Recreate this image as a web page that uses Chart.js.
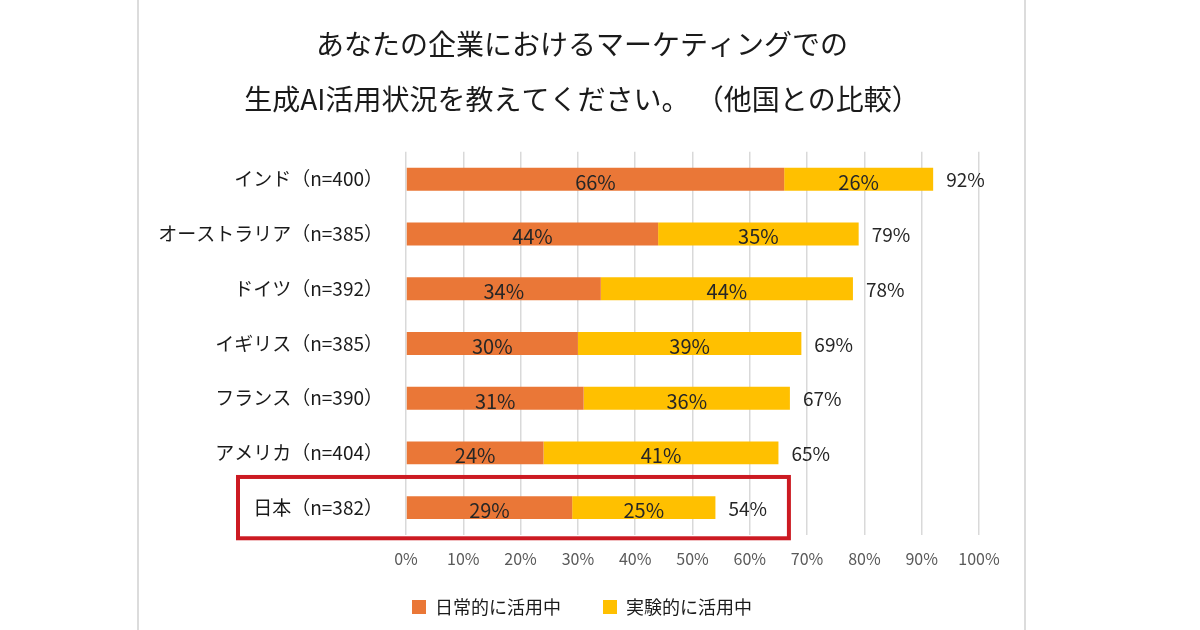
<!DOCTYPE html>
<html lang="ja">
<head>
<meta charset="utf-8">
<script src="https://cdn.jsdelivr.net/npm/chart.js@4"></script>
<style>
  html, body { margin: 0; padding: 0; background: #fff; }
  #wrap { position: relative; width: 1200px; height: 630px; }
  #wrap::before, #wrap::after {
    content: ""; position: absolute; top: 0; bottom: 0; width: 2px; background: #dcdcdc;
  }
  #wrap::before { left: 137px; }
  #wrap::after { left: 1024px; }
</style>
</head>
<body>
<div id="wrap"><canvas id="chart" width="1200" height="630"></canvas></div>
<script>
const titleLines = ['あなたの企業におけるマーケティングでの', '生成AI活用状況を教えてください。 （他国との比較）'];
const countries = ['インド（n=400）', 'オーストラリア（n=385）', 'ドイツ（n=392）', 'イギリス（n=385）', 'フランス（n=390）', 'アメリカ（n=404）', '日本（n=382）'];
const daily = [66, 44, 34, 30, 31, 24, 29];
const trial = [26, 35, 44, 39, 36, 41, 25];
const totals = [92, 79, 78, 69, 67, 65, 54];
const seriesNames = ['日常的に活用中', '実験的に活用中'];
const xTicks = [0, 10, 20, 30, 40, 50, 60, 70, 80, 90, 100];

const FONT = '"Noto Sans CJK JP", "Noto Sans", sans-serif';
Chart.defaults.font.family = FONT;

// axis labels drawn by hand so nothing gets clipped by the axis boxes
const axisLabels = {
    id: 'axisLabels',
    afterDraw(chart) {
        const x = chart.scales.x, y = chart.scales.y;
        const ctx = chart.ctx;
        ctx.save();
        ctx.textBaseline = 'middle';

        ctx.font = '19px ' + FONT;
        ctx.fillStyle = '#1a1a1a';
        ctx.textAlign = 'right';
        countries.forEach((c, i) => ctx.fillText(c, y.right - 23, y.getPixelForValue(i)));

        ctx.font = '16px ' + FONT;
        ctx.fillStyle = '#595959';
        ctx.textAlign = 'center';
        xTicks.forEach(v => ctx.fillText(v + '%', x.getPixelForValue(v), chart.chartArea.bottom + 24));
        ctx.restore();
    }
};

// values inside the bars and the total to the right
const barLabels = {
    id: 'barLabels',
    afterDatasetsDraw(chart) {
        const ctx = chart.ctx;
        ctx.save();
        ctx.fillStyle = '#262626';
        ctx.textBaseline = 'middle';
        ctx.font = '20px ' + FONT;
        chart.data.datasets.forEach((ds, i) => {
            chart.getDatasetMeta(i).data.forEach((bar, j) => {
                ctx.textAlign = 'center';
                ctx.fillText(ds.data[j] + '%', (bar.x + bar.base) / 2, bar.y + 3);
            });
        });
        ctx.font = '19px ' + FONT;
        const last = chart.getDatasetMeta(chart.data.datasets.length - 1).data;
        last.forEach((bar, j) => {
            ctx.textAlign = 'left';
            ctx.fillText(totals[j] + '%', bar.x + 13, bar.y + 1);
        });
        ctx.restore();
    }
};

// red frame around the Japan row
const highlight = {
    id: 'highlight',
    afterDraw(chart) {
        const y = chart.scales.y, x = chart.scales.x;
        const idx = countries.length - 1;
        const cy = y.getPixelForValue(idx);
        const half = (y.getPixelForValue(1) - y.getPixelForValue(0)) * 0.56;
        const ctx = chart.ctx;
        ctx.save();
        ctx.strokeStyle = '#cc1a22';
        ctx.lineWidth = 4;
        ctx.strokeRect(x.left - 168, cy - half, x.getPixelForValue(67) - x.left + 167, half * 2);
        ctx.restore();
    }
};

new Chart(document.getElementById('chart'), {
    type: 'bar',
    data: {
        labels: countries,
        datasets: [
            { label: seriesNames[0], data: daily, backgroundColor: '#EA7737', barPercentage: 0.42, categoryPercentage: 1 },
            { label: seriesNames[1], data: trial, backgroundColor: '#FFC000', barPercentage: 0.42, categoryPercentage: 1 }
        ]
    },
    options: {
        indexAxis: 'y',
        responsive: false,
        animation: false,
        layout: { padding: { left: 185, right: 221, top: 17, bottom: 4 } },
        scales: {
            x: {
                stacked: true,
                min: 0,
                max: 100,
                afterBuildTicks: (s) => { s.ticks = xTicks.map(v => ({ value: v })); },
                afterFit: (s) => { s.height = 21; },
                ticks: { display: false },
                grid: { color: '#d9d9d9', lineWidth: 1.5, drawTicks: false },
                border: { display: false }
            },
            y: {
                stacked: true,
                afterFit: (s) => { s.width = 221; },
                ticks: { display: false },
                grid: { display: false, drawTicks: false },
                border: { display: false }
            }
        },
        plugins: {
            title: {
                display: true,
                text: titleLines,
                color: '#1a1a1a',
                font: { size: 28, weight: 'normal', lineHeight: 1.96 },
                padding: { top: 0, bottom: 25 }
            },
            legend: {
                position: 'bottom',
                labels: { color: '#1a1a1a', font: { size: 18 }, boxWidth: 14, boxHeight: 14, padding: 42 }
            },
            tooltip: { enabled: false }
        }
    },
    plugins: [barLabels, axisLabels, highlight]
});
</script>
</body>
</html>
